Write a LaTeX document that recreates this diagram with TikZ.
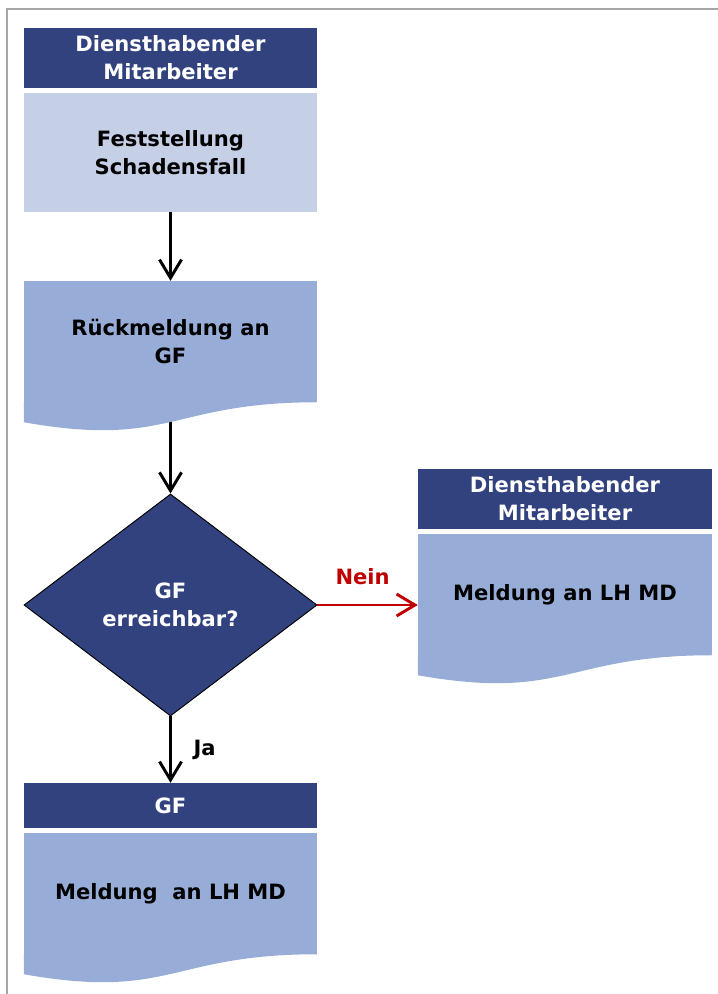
\documentclass[tikz,border=0pt]{standalone}
\usepackage{fontspec}
\setmainfont{DejaVu Sans}
\usetikzlibrary{shapes.geometric, arrows.meta, positioning, calc}
\definecolor{roleblue}{RGB}{49, 66, 127}
\definecolor{paleblue}{RGB}{197, 208, 231}
\definecolor{docblue}{RGB}{151, 173, 215}
\definecolor{neinred}{RGB}{192, 0, 0}
\definecolor{framegray}{RGB}{166, 166, 166}

\tikzset{
  txt/.style={font=\fontsize{18}{23.8}\selectfont\bfseries, align=center, inner sep=0pt},
  role/.style={txt, fill=roleblue, text=white, minimum width=8.79cm, minimum height=1.8cm},
  taskbox/.style={txt, fill=#1, minimum width=8.79cm, minimum height=3.63cm},
  decide/.style={txt, diamond, draw=black, line width=0.8pt, fill=roleblue, text=white,
    minimum width=8.79cm, minimum height=6.66cm, aspect=1.32},
  flow/.style={-{Straight Barb[length=0.55cm, width=0.66cm]}, line width=2.5pt},
}

% wavy bottom of a document box
\newcommand{\docwave}[1]{%
  \fill[docblue] (#1.south east) .. controls (#1.south) and ($(#1.south)+(0,46)$)
    .. ($(#1.south west)+(0,20)$) -- (#1.south west) -- cycle;}

\begin{document}
\begin{tikzpicture}[x=0.03cm, y=-0.03cm]
  \useasboundingbox (0,0) rectangle (718,994);
  \draw[framegray, line width=0.06cm] (7,1000) -- (7,9) -- (725,9);

  % left column
  \node[role] (hd1) at (170.5,58) {Diensthabender\\Mitarbeiter};
  \node[taskbox=paleblue, minimum height=3.57cm] (fest) at (170.5,152.5) {Feststellung\\Schadensfall};
  \node[taskbox=docblue] (rueck) at (170.5,341.5) {Rückmeldung an\\GF};
  \node[decide] (dia) at (170.5,605) {GF\\erreichbar?};
  \node[role, minimum height=1.35cm] (hd3) at (170.5,805.5) {GF};
  \node[taskbox=docblue] (meld2) at (170.5,893.5) {Meldung~ an LH MD};

  % right column
  \node[role, minimum width=8.82cm] (hd2) at (565,499) {Diensthabender\\Mitarbeiter};
  \node[taskbox=docblue, minimum width=8.82cm] (meld1) at (565,594.5) {Meldung an LH MD};

  % connectors
  \draw[flow] (fest) -- (rueck);
  \draw[flow] (rueck) -- (dia);
  \draw[flow] (dia) -- (hd3) node[midway, right=0.65cm, txt] {Ja};
  \draw[flow, neinred, line width=2.5pt] (dia.east) -- (dia.east -| meld1.west)
    node[pos=0.45, above=0.55cm, txt, text=neinred] {Nein};

  \docwave{rueck}
  \docwave{meld1}
  \docwave{meld2}
\end{tikzpicture}
\end{document}
